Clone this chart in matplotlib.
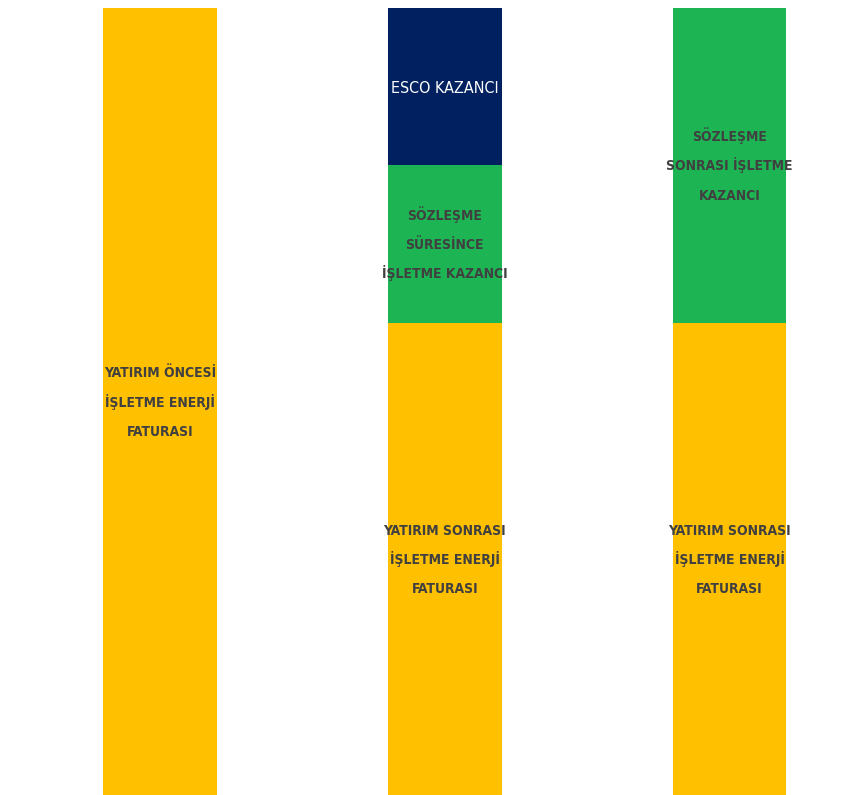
import matplotlib.pyplot as plt
import numpy as np

# Columns: before investment, during contract, after contract
positions = [0, 1, 2]
bill_values = [100, 60, 60]
savings_values = [0, 20, 40]
esco_values = [0, 20, 0]

bill_labels = [
    "YATIRIM ÖNCESİ\nİŞLETME ENERJİ\nFATURASI",
    "YATIRIM SONRASI\nİŞLETME ENERJİ\nFATURASI",
    "YATIRIM SONRASI\nİŞLETME ENERJİ\nFATURASI",
]
savings_labels = [
    "",
    "SÖZLEŞME\nSÜRESİNCE\nİŞLETME KAZANCI",
    "SÖZLEŞME\nSONRASI İŞLETME\nKAZANCI",
]
esco_labels = ["", "ESCO KAZANCI", ""]

YELLOW = "#FFC000"
GREEN = "#1DB454"
NAVY = "#002060"
TEXT = "#404040"
LINE_STEP = 21  # points between text lines


def block_text(ax, x, y, label, size, **kw):
    # one text per line, baseline aligned, so accented capitals don't shift lines
    lines = label.split("\n")
    n = len(lines)
    cap = 0.365 * size
    for i, line in enumerate(lines):
        dy = ((n - 1) / 2 - i) * LINE_STEP - cap
        ax.annotate(line, (x, y), xytext=(0, dy), textcoords="offset points",
                    ha="center", va="baseline", fontsize=size, **kw)


def main() -> None:
    fig = plt.figure(figsize=(8.63, 7.95), dpi=100)
    ax = fig.add_axes([0, 0, 1, 1])

    bill = np.array(bill_values, dtype=float)
    sav = np.array(savings_values, dtype=float)
    esco = np.array(esco_values, dtype=float)
    width = 0.4

    ax.bar(positions, bill, width=width, color=YELLOW, linewidth=0)
    ax.bar(positions, sav, width=width, bottom=bill, color=GREEN, linewidth=0)
    ax.bar(positions, esco, width=width, bottom=bill + sav, color=NAVY, linewidth=0)

    dark = dict(fontweight="bold", color=TEXT,
                family="DejaVu Sans", fontstretch="condensed")
    for x, b, s, e, bl, sl, el in zip(positions, bill, sav, esco,
                                      bill_labels, savings_labels, esco_labels):
        block_text(ax, x, b / 2, bl, 10, **dark)
        if s:
            block_text(ax, x, b + s / 2, sl, 10, **dark)
        if e:
            block_text(ax, x, b + s + e / 2, el, 11.5, color="white",
                       family="DejaVu Sans", fontstretch="condensed")

    ax.set_xlim(-0.5624, 2.469)
    ax.set_ylim(0, 100 * 795 / 787)
    ax.axis("off")

    fig.savefig("out.png", dpi=100)


if __name__ == "__main__":
    main()
